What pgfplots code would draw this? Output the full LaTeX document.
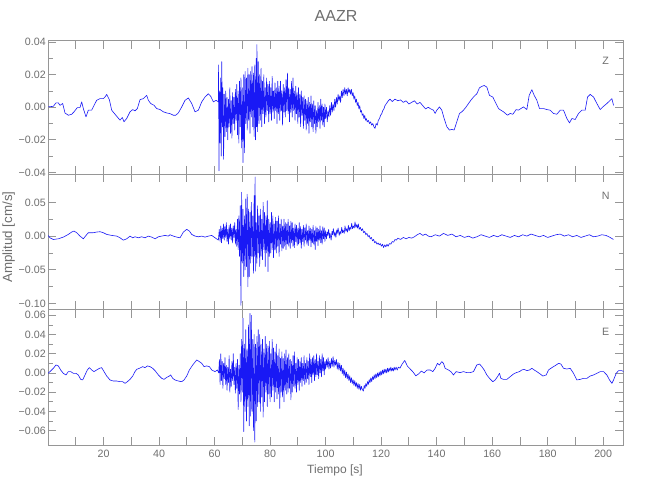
\documentclass[border=0pt]{standalone}
\usepackage{pgfplots}
\pgfplotsset{compat=1.18}
\usepackage{fontspec}
\setmainfont{Liberation Sans}
\definecolor{axc}{RGB}{150,150,150}
\definecolor{txc}{RGB}{110,110,110}
\definecolor{trc}{RGB}{25,25,245}
\pgfplotsset{
 panel/.style={
  scale only axis, width=431.6pt, xmin=0, xmax=207.3,
  axis line style={axc, line width=0.6pt},
  every tick/.style={axc, line width=0.6pt},
  major tick length=6pt, minor tick length=3.5pt,
  xtick={10,20,...,200},
  scaled y ticks=false, scaled x ticks=false,
  tick label style={font=\fontsize{8}{9}\selectfont, text=txc},
  yticklabel style={inner xsep=1.5pt},
  minor y tick num=1,
  anchor=south west,
 },
 trace/.style={trc, line width=0.45pt, line join=round},
}
\begin{document}
\begin{tikzpicture}
\useasboundingbox (0,0) rectangle (487.5pt,375pt);
% ---------- Z ----------
\begin{axis}[panel, at={(36pt,244.5pt)}, height=100.1pt,
  ymin=-0.041, ymax=0.041, ytick={-0.04,-0.02,0,0.02,0.04},
  yticklabels={−0.04,−0.02,0.00,0.02,0.04}, xticklabels={}]
\addplot[trace] coordinates {
(0.0,0.0002)(1.92,0.0006)(2.88,0.0027)(3.72,0.0027)(4.32,0.0012)(5.28,0.0023)(6.12,-0.0035)(7.32,-0.0049)(8.53,-0.0043)(9.37,-0.0028)(10.57,-0.0002)(11.53,-0.0002)(12.13,0.0033)(12.73,-0.0008)(13.69,-0.0059)(14.53,-0.0018)(15.73,-0.0018)(17.53,0.0043)(18.74,0.0053)(19.94,0.0053)(20.54,0.0063)(21.14,0.0079)(22.10,0.0047)(22.94,-0.0018)(24.74,-0.0055)(25.94,-0.0079)(26.78,-0.0063)(27.38,-0.0089)(28.35,-0.0069)(29.55,-0.0028)(30.51,-0.0014)(31.35,-0.0022)(32.19,-0.0008)(33.15,0.0047)(34.35,0.0053)(35.55,0.0073)(36.15,0.0043)(36.99,0.0023)(38.20,0.0012)(39.16,-0.0008)(40.36,-0.0014)(41.56,-0.0028)(42.76,-0.0035)(43.96,-0.0039)(45.16,-0.0049)(46.00,-0.0049)(46.96,-0.0035)(48.17,0.0002)(49.37,0.0043)(50.57,0.0057)(51.77,0.0023)(52.97,-0.0028)(54.17,-0.0018)(55.37,0.0033)(56.57,0.0063)(57.77,0.0083)(58.62,0.0067)(59.58,0.0033)(60.54,0.0043)(61.38,0.0033)
(61.45,0.026)(61.60,-0.039)(61.80,0.010)(62.00,-0.022)(62.20,0.018)(62.40,-0.030)(62.60,0.028)(62.80,-0.012)(63.00,0.012)(63.25,-0.032)(63.50,0.008)(63.75,-0.018)(64.00,0.010)(64.25,-0.015)(64.50,0.006)(64.75,-0.020)(65.00,0.005)(65.25,-0.012)(65.50,0.012)(65.75,-0.016)(66.00,0.004)(66.25,-0.019)(66.50,0.009)(66.75,-0.010)(67.00,0.006)(67.25,-0.014)(67.50,0.011)(67.75,-0.008)(68.00,0.014)(68.25,-0.017)(68.50,0.010)(68.75,-0.022)(69.00,0.016)(69.25,-0.012)(69.50,0.018)(69.75,-0.025)(70.00,0.012)(70.25,-0.034)(70.50,0.020)(70.75,-0.028)(71.00,0.022)(71.25,-0.010)(71.50,0.018)(71.75,-0.014)(72.00,0.024)(72.25,-0.008)(72.50,0.020)(72.75,-0.016)(73.00,0.022)(73.25,-0.006)(73.50,0.025)(73.75,-0.012)(74.00,0.021)(74.25,-0.018)(74.50,0.026)(74.75,-0.020)(75.00,0.030)(75.12,-0.012)(75.25,0.0385)(75.50,-0.015)(75.75,0.028)(76.00,-0.010)(76.25,0.020)(76.50,-0.008)(76.75,0.024)(77.00,-0.012)(77.25,0.016)(77.50,-0.004)(77.75,0.020)(78.00,-0.010)(78.25,0.012)(78.50,-0.006)(78.75,0.018)(79.00,-0.002)(79.25,0.014)(79.50,-0.009)(79.75,0.016)(80.00,-0.004)(80.25,0.012)(80.50,-0.008)(80.75,0.019)(81.00,-0.003)(81.25,0.010)(81.50,-0.007)(81.75,0.015)(82.00,-0.002)(82.25,0.012)(82.50,-0.010)(82.75,0.016)(83.00,-0.004)(83.25,0.013)(83.50,-0.008)(83.75,0.016)(84.00,-0.002)(84.25,0.010)(84.50,-0.011)(84.75,0.014)(85.00,-0.003)(85.25,0.012)(85.50,-0.006)(85.75,0.017)(86.00,-0.002)(86.25,0.021)(86.50,-0.004)(86.75,0.012)(87.00,-0.009)(87.25,0.011)(87.50,-0.003)(87.75,0.016)(88.00,-0.006)(88.25,0.018)(88.50,-0.002)(88.75,0.010)(89.00,-0.008)(89.25,0.013)(89.50,-0.004)(89.75,0.009)(90.00,-0.010)(90.25,0.012)(90.50,-0.006)(90.75,0.008)(91.00,-0.012)(91.25,0.010)(91.50,-0.005)(91.75,0.006)(92.00,-0.013)(92.25,0.007)(92.50,-0.008)(92.75,0.005)(93.00,-0.014)(93.25,0.004)(93.50,-0.010)(93.75,0.006)(94.00,-0.016)(94.25,0.003)(94.50,-0.009)(94.75,0.007)(95.00,-0.012)(95.25,0.002)(95.50,-0.015)(95.75,0.004)(96.00,-0.010)(96.25,0.001)(96.50,-0.016)(96.75,-0.002)(97.00,-0.012)(97.25,0.003)(97.50,-0.009)(97.75,0.001)(98.00,-0.013)(98.25,0.005)(98.50,-0.008)(98.75,0.002)(99.00,-0.011)(99.25,0.000)(99.50,-0.012)(99.75,0.002)
(100.0,-0.007)(100.3,0.000)(100.6,-0.009)(100.9,-0.002)(101.2,-0.006)(101.5,0.001)(101.8,-0.005)(102.1,0.003)(102.4,-0.003)(102.7,0.002)(103.0,-0.002)(103.3,0.005)(103.6,0.000)(103.9,0.006)(104.2,0.002)(104.5,0.008)(104.8,0.004)(105.1,0.007)(105.4,0.003)(105.7,0.010)(106.0,0.006)(106.3,0.011)(106.6,0.007)(106.9,0.012)(107.2,0.008)(107.5,0.011)(107.8,0.007)(108.1,0.012)(108.4,0.009)(108.7,0.011)(109.0,0.008)(109.3,0.011)(109.6,0.007)(109.9,0.009)(110.2,0.005)(110.5,0.007)(110.8,0.003)(111.1,0.005)(111.4,0.001)(111.7,0.003)(112.0,-0.001)(112.3,0.001)(112.6,-0.003)(112.9,-0.002)(113.2,-0.005)(113.5,-0.004)(113.8,-0.007)(114.1,-0.005)(114.4,-0.008)(114.7,-0.007)(115.0,-0.009)(115.4,-0.008)(115.8,-0.010)(116.2,-0.009)(116.6,-0.011)(117.0,-0.010)(117.4,-0.012)(117.8,-0.013)(118.2,-0.010)(118.6,-0.011)(119.0,-0.008)(119.4,-0.007)(119.8,-0.005)(120.2,-0.004)(120.6,-0.002)(121.0,-0.001)(121.4,0.001)(121.8,0.002)(122.2,0.003)(122.6,0.004)(123.2,0.005)(124.00,0.0035)(125.00,0.005)(126.00,0.004)(127.00,0.0045)(128.00,0.003)(129.00,0.004)(130.00,0.002)(131.00,0.003)(132.00,0.004)(133.00,0.002)(134.00,0.003)(135.00,0.001)(136.00,-0.001)(137.00,0.000)
(137.66,-0.0008)(138.86,-0.0018)(139.46,-0.0038)(140.06,-0.0018)(141.02,0.0002)(141.86,-0.0018)(142.70,-0.0069)(143.67,-0.0120)(144.63,-0.0140)(145.47,-0.0136)(146.31,-0.0140)(147.27,-0.0089)(148.23,-0.0038)(149.07,-0.0028)(149.67,-0.0018)(150.63,0.0002)(151.47,0.0023)(152.32,0.0043)(153.28,0.0063)(154.48,0.0083)(155.44,0.0120)(156.28,0.0128)(157.12,0.0134)(158.08,0.0124)(159.04,0.0073)(160.24,0.0063)(161.08,0.0033)(162.28,-0.0008)(163.13,-0.0018)(164.09,-0.0028)(165.53,-0.0049)(166.49,-0.0038)(167.45,-0.0043)(168.65,-0.0014)(169.49,-0.0018)(170.33,-0.0008)(171.29,0.0002)(172.49,-0.0014)(173.34,0.0073)(174.30,0.0108)(175.14,0.0073)(176.10,0.0043)(177.06,-0.0008)(178.50,-0.0008)(179.70,-0.0014)(180.90,-0.0018)(182.10,-0.0038)(183.30,-0.0043)(184.51,-0.0018)(185.71,-0.0018)(186.91,-0.0069)(187.87,-0.0096)(188.71,-0.0069)(189.91,-0.0075)(191.11,-0.0038)(192.31,-0.0018)(193.52,-0.0018)(194.36,0.0063)(195.32,0.0079)(196.52,0.0063)(197.72,0.0023)(198.92,-0.0014)(200.12,0.0006)(201.32,0.0023)(202.52,0.0043)(203.13,0.0053)(203.73,0.0012)
};
\node[txc, font=\fontsize{8}{9}\selectfont] at (rel axis cs:0.969,0.85) {Z};
\end{axis}
% ---------- N ----------
\begin{axis}[panel, at={(36pt,143.25pt)}, height=101.25pt,
  ymin=-0.108, ymax=0.092, ytick={-0.10,-0.05,0,0.05},
  yticklabels={−0.10,−0.05,0.00,0.05}, xticklabels={}]
\addplot[trace] coordinates {
(0.0,0.001)(0.72,-0.0025)(1.92,-0.005)(3.72,-0.004)(5.52,-0.0015)(7.32,0.0025)(8.53,0.006)(9.37,0.0075)(10.33,0.005)(11.53,0.0)(12.73,-0.004)(13.69,0.001)(14.53,0.005)(16.33,0.005)(17.53,0.006)(18.74,0.0065)(19.94,0.005)(21.14,0.0025)(22.94,0.001)(24.74,0.0)(25.94,-0.0025)(27.14,-0.006)(28.35,-0.004)(29.55,0.0)(30.51,-0.0025)(31.35,-0.001)(32.55,-0.0025)(33.75,-0.001)(34.95,-0.0025)(36.15,0.0)(37.35,-0.0015)(38.56,-0.004)(39.76,-0.001)(40.96,0.0)(42.16,0.001)(43.36,0.0)(43.96,0.002)(45.16,0.0)(46.36,-0.0015)(47.56,-0.0025)(48.77,0.006)(49.97,0.010)(50.93,0.0075)(51.77,0.0025)(52.97,0.0)(54.17,-0.001)(55.37,0.0)(56.57,-0.0015)(57.77,0.0)(58.98,0.001)(60.18,-0.0025)(61.38,-0.006)
(61.7,0.010)(62.0,-0.008)(62.25,0.015)(62.5,-0.010)(62.75,0.012)(63.0,-0.004)(63.25,0.018)(63.5,-0.006)(63.75,0.014)(64.0,-0.002)(64.25,0.020)(64.5,-0.008)(64.75,0.010)(65.0,-0.012)(65.25,0.016)(65.5,-0.004)(65.75,0.018)(66.0,-0.006)(66.25,0.012)(66.5,-0.010)(66.75,0.015)(67.0,-0.002)(67.25,0.020)(67.5,-0.012)(67.75,0.010)(68.0,-0.015)(68.25,0.025)(68.5,-0.020)(68.75,0.030)(69.0,-0.030)(69.25,0.045)(69.5,-0.1025)(69.75,0.065)(70.0,-0.040)(70.25,0.040)(70.5,-0.060)(70.75,0.030)(71.0,-0.050)(71.25,0.055)(71.5,-0.045)(71.75,0.062)(72.0,-0.075)(72.25,0.040)(72.5,-0.060)(72.75,0.035)(73.0,-0.040)(73.25,0.050)(73.5,-0.030)(73.75,0.030)(74.0,-0.055)(74.25,0.060)(74.42,-0.030)(74.6,0.0875)(74.8,-0.052)(75.0,0.020)(75.25,-0.040)(75.5,0.045)(75.75,-0.025)(76.0,0.030)(76.25,-0.045)(76.5,0.040)(76.75,-0.030)(77.0,0.025)(77.25,-0.035)(77.5,0.050)(77.75,-0.020)(78.0,0.035)(78.25,-0.045)(78.5,0.030)(78.75,-0.025)(79.0,0.0525)(79.25,-0.0525)(79.5,0.025)(79.75,-0.030)(80.0,0.020)(80.25,-0.025)(80.5,0.035)(80.75,-0.020)(81.0,0.030)(81.25,-0.032)(81.5,0.018)(81.75,-0.020)(82.0,0.028)(82.25,-0.025)(82.5,0.022)(82.75,-0.015)(83.0,0.030)(83.25,-0.030)(83.5,0.018)(83.75,-0.012)(84.0,0.025)(84.25,-0.022)(84.5,0.015)(84.75,-0.018)(85.0,0.025)(85.25,-0.015)(85.5,0.020)(85.75,-0.020)(86.0,0.018)(86.25,-0.012)(86.5,0.025)(86.75,-0.015)(87.0,0.015)(87.25,-0.018)(87.5,0.022)(87.75,-0.010)(88.0,0.020)(88.25,-0.015)(88.5,0.012)(88.75,-0.017)(89.0,0.018)(89.25,-0.008)(89.5,0.016)(89.75,-0.014)(90.0,0.012)(90.25,-0.012)(90.5,0.020)(90.75,-0.010)(91.0,0.014)(91.25,-0.018)(91.5,0.010)(91.75,-0.008)(92.0,0.016)(92.25,-0.015)(92.5,0.012)(92.75,-0.006)(93.0,0.018)(93.25,-0.012)(93.5,0.008)(93.75,-0.014)(94.0,0.015)(94.25,-0.006)(94.5,0.012)(94.75,-0.016)(95.0,0.010)(95.25,-0.010)(95.5,0.016)(95.75,-0.012)(96.0,0.008)(96.25,-0.020)(96.5,0.014)(96.75,-0.008)(97.0,0.012)(97.25,-0.014)(97.5,0.010)(97.75,-0.006)(98.0,0.015)(98.25,-0.010)(98.5,0.008)(98.75,-0.012)(99.0,0.014)(99.25,-0.004)(99.5,0.012)(99.75,-0.008)
(100.0,0.008)(100.3,-0.004)(100.6,0.006)(100.8,0.001)(101.1,0.010)(101.4,-0.003)(101.6,0.004)(102.0,-0.006)(102.3,0.007)(102.5,0.002)(102.8,0.011)(103.1,0.000)(103.4,0.006)(103.7,-0.002)(104.0,0.009)(104.2,0.004)(104.5,0.012)(104.9,0.001)(105.2,0.007)(105.5,0.003)(105.8,0.013)(106.1,0.005)(106.3,0.009)(106.7,0.004)(107.0,0.015)(107.3,0.007)(107.6,0.011)(107.9,0.006)(108.2,0.016)(108.5,0.008)(108.8,0.013)(109.1,0.010)(109.4,0.019)(109.7,0.011)(110.0,0.015)(110.3,0.012)(110.6,0.021)(110.9,0.013)(111.2,0.017)(111.5,0.012)(111.8,0.018)(112.1,0.010)(112.5,0.013)(112.9,0.008)(113.3,0.011)(113.7,0.005)(114.1,0.007)(114.5,0.002)(114.9,0.004)(115.3,-0.001)(115.7,0.001)(116.1,-0.004)(116.5,-0.002)(116.9,-0.007)(117.3,-0.005)(117.7,-0.010)(118.1,-0.008)(118.5,-0.012)(118.9,-0.010)(119.3,-0.013)(119.7,-0.011)(120.1,-0.015)(120.5,-0.012)(120.9,-0.017)(121.3,-0.013)(121.7,-0.016)(122.1,-0.012)(122.5,-0.015)(123.0,-0.011)(123.5,-0.012)(124.0,-0.008)(124.5,-0.009)(125.0,-0.005)(125.5,-0.006)(126.0,-0.003)(127.0,-0.005)(128.0,-0.002)(129.0,-0.004)(130.0,-0.002)(131.0,-0.003)(132.0,-0.001)(133.0,0.002)(134.0,0.004)(135.0,0.001)(136.0,0.003)(137.0,0.000)
(138,-0.001)(139.5,0.002)(141,0.000)(142.5,0.004)(144,0.001)(145.5,0.003)(147,-0.001)(148.5,0.001)(150,-0.002)(151.5,0.000)(153,-0.003)(154.5,-0.001)(156,0.002)(157.5,0.000)(159,-0.002)(160.5,0.001)(162,-0.001)(163.5,0.002)(165,0.000)(166.5,-0.002)(168,0.001)(169.5,-0.001)(171,0.002)(172.5,0.000)(174,0.003)(175.5,0.001)(177,-0.001)(178.5,0.001)(180,-0.002)(181.5,0.000)(183,0.002)(184.5,0.003)(186,0.000)(187.5,0.002)(189,-0.001)(190.5,0.001)(192,-0.002)(193.5,0.000)(195,0.002)(196.5,-0.001)(198,0.000)(199.5,0.002)(201,0.001)(202.5,-0.002)(203.7,-0.005)
};
\node[txc, font=\fontsize{8}{9}\selectfont] at (rel axis cs:0.969,0.84) {N};
\end{axis}
% ---------- E ----------
\begin{axis}[panel, at={(36pt,41.25pt)}, height=101.6pt,
  ymin=-0.075, ymax=0.066, ytick={-0.06,-0.04,-0.02,0,0.02,0.04,0.06},
  yticklabels={−0.06,−0.04,−0.02,0.00,0.02,0.04,0.06},
  xticklabels={,20,,40,,60,,80,,100,,120,,140,,160,,180,,200}]
\addplot[trace] coordinates {
(0.0,-0.0004)(0.72,0.0014)(1.92,0.0048)(2.88,0.0083)(3.72,0.0073)(4.56,0.0031)(5.52,-0.0004)(6.48,-0.0021)(7.32,0.0014)(8.17,0.0014)(9.13,-0.0004)(10.09,-0.0004)(10.93,-0.0021)(11.77,-0.0067)(12.49,-0.0073)(13.33,-0.0021)(14.17,0.0031)(14.89,0.0055)(15.73,0.0031)(16.57,0.0014)(17.53,0.0031)(18.50,0.0048)(19.34,0.0055)(20.18,0.0014)(21.14,-0.0032)(22.34,-0.0073)(23.54,-0.0084)(24.74,-0.0084)(25.94,-0.0091)(26.90,-0.0091)(27.75,-0.0108)(28.59,-0.0091)(29.55,-0.0067)(30.51,-0.0032)(31.35,0.0014)(31.95,0.0038)(32.91,0.0048)(34.11,0.0066)(34.95,0.0055)(35.79,0.0073)(36.75,0.0066)(37.72,0.0048)(38.56,0.0024)(39.76,-0.0021)(40.96,-0.0056)(41.80,-0.0067)(42.76,-0.0046)(43.72,-0.0032)(44.20,-0.0021)(44.92,-0.0056)(45.76,-0.0073)(46.96,-0.0084)(48.17,-0.0091)(49.01,-0.0073)(49.97,-0.0032)(50.93,0.0031)(52.13,0.0083)(53.57,0.0135)(54.53,0.0118)(55.37,0.0100)(56.21,0.0066)(57.17,0.0073)(58.14,0.0066)(58.98,0.0031)(60.18,0.0014)(61.02,0.0031)
(61.5,0.0)(61.75,0.014)(62.00,-0.012)(62.25,0.020)(62.50,-0.008)(62.75,0.012)(63.00,-0.016)(63.25,0.010)(63.50,-0.006)(63.75,0.016)(64.00,-0.012)(64.25,0.008)(64.50,-0.018)(64.75,0.006)(65.00,-0.010)(65.25,0.018)(65.50,-0.020)(65.75,0.004)(66.00,-0.014)(66.25,0.012)(66.50,-0.008)(66.75,0.020)(67.00,-0.012)(67.25,0.006)(67.50,-0.021)(67.75,0.010)(68.00,-0.016)(68.25,0.014)(68.50,-0.038)(68.75,0.008)(69.00,-0.022)(69.25,0.020)(69.50,-0.030)(69.75,0.035)(70.00,-0.020)(70.25,0.057)(70.50,-0.061)(70.75,0.030)(71.00,-0.040)(71.25,0.045)(71.50,-0.050)(71.75,0.025)(72.00,-0.035)(72.25,0.050)(72.50,-0.055)(72.75,0.062)(73.00,-0.045)(73.25,0.060)(73.50,-0.040)(73.75,0.035)(74.00,-0.060)(74.25,0.040)(74.50,-0.072)(74.75,0.030)(75.00,-0.050)(75.25,0.038)(75.50,-0.035)(75.75,0.045)(76.00,-0.030)(76.25,0.040)(76.50,-0.040)(76.75,0.030)(77.00,-0.025)(77.25,0.035)(77.50,-0.046)(77.75,0.025)(78.00,-0.030)(78.25,0.038)(78.50,-0.020)(78.75,0.030)(79.00,-0.035)(79.25,0.028)(79.50,-0.022)(79.75,0.033)(80.00,-0.030)(80.25,0.020)(80.50,-0.025)(80.75,0.035)(81.00,-0.018)(81.25,0.026)(81.50,-0.030)(81.75,0.022)(82.00,-0.020)(82.25,0.030)(82.50,-0.027)(82.75,0.018)(83.00,-0.022)(83.25,0.025)(83.50,-0.037)(83.75,0.015)(84.00,-0.020)(84.25,0.022)(84.50,-0.025)(84.75,0.015)(85.00,-0.030)(85.25,0.020)(85.50,-0.018)(85.75,0.024)(86.00,-0.022)(86.25,0.016)(86.50,-0.020)(86.75,0.020)(87.00,-0.016)(87.25,0.014)(87.50,-0.028)(87.75,0.012)(88.00,-0.020)(88.25,0.018)(88.50,-0.014)(88.75,0.022)(89.00,-0.016)(89.25,0.010)(89.50,-0.020)(89.75,0.016)(90.00,-0.012)(90.25,0.014)(90.50,-0.018)(90.75,0.012)(91.00,-0.010)(91.25,0.016)(91.50,-0.014)(91.75,0.010)(92.00,-0.008)(92.25,0.018)(92.50,-0.012)(92.75,0.010)(93.00,-0.010)(93.25,0.016)(93.50,-0.006)(93.75,0.012)(94.00,-0.012)(94.25,0.020)(94.50,-0.004)(94.75,0.014)(95.00,-0.010)(95.25,0.016)(95.50,-0.002)(95.75,0.018)(96.00,-0.008)(96.25,0.014)(96.50,-0.004)(96.75,0.020)(97.00,-0.002)(97.25,0.012)(97.50,-0.006)(97.75,0.018)(98.00,0.000)(98.25,0.014)(98.50,-0.004)(98.75,0.020)(99.00,0.002)(99.25,0.016)(99.50,-0.002)(99.75,0.012)
(100.0,0.004)(100.3,0.014)(100.6,0.006)(100.9,0.016)(101.2,0.004)(101.5,0.012)(101.8,0.005)(102.1,0.015)(102.4,0.007)(102.7,0.017)(103.0,0.006)(103.3,0.013)(103.6,0.008)(103.9,0.014)(104.2,0.004)(104.5,0.011)(104.8,0.003)(105.1,0.010)(105.4,0.002)(105.7,0.008)(106.0,-0.001)(106.3,0.005)(106.6,-0.003)(106.9,0.003)(107.2,-0.005)(107.5,0.001)(107.8,-0.006)(108.1,-0.001)(108.4,-0.008)(108.7,-0.003)(109.0,-0.010)(109.3,-0.005)(109.6,-0.011)(109.9,-0.007)(110.2,-0.013)(110.5,-0.008)(110.8,-0.014)(111.1,-0.010)(111.4,-0.016)(111.7,-0.011)(112.0,-0.017)(112.3,-0.012)(112.6,-0.018)(112.9,-0.014)(113.2,-0.017)(113.6,-0.019)(113.9,-0.013)(114.2,-0.016)(114.5,-0.011)(114.8,-0.014)(115.1,-0.009)(115.4,-0.012)(115.7,-0.007)(116.0,-0.010)(116.3,-0.005)(116.6,-0.009)(116.9,-0.004)(117.2,-0.007)(117.5,-0.002)(117.8,-0.006)(118.1,-0.001)(118.4,-0.005)(118.7,0.000)(119.0,-0.004)(119.3,0.001)(119.6,-0.003)(119.9,0.002)(120.2,-0.002)(120.5,0.003)(120.8,-0.001)(121.1,0.004)(121.4,0.000)(121.7,0.004)(122.0,0.000)(122.3,0.005)(122.6,0.001)(122.9,0.005)(123.2,0.002)(123.5,0.006)(123.8,0.002)(124.1,0.005)(124.4,0.002)(124.7,0.006)(125.0,0.003)(125.4,0.006)(125.8,0.003)(126.2,0.006)(126.80,0.005)(127.50,0.009)(128.50,0.013)(129.50,0.007)(130.50,0.004)(131.50,0.001)(132.50,-0.003)(133.50,-0.001)(134.50,0.002)(135.50,0.000)(136.50,0.003)
(137.66,0.0031)(138.62,0.0014)(139.46,0.0048)(140.30,0.0100)(141.02,0.0083)(141.86,0.0118)(142.46,0.0100)(143.07,0.0048)(144.27,0.0031)(145.11,0.0014)(146.07,-0.0021)(147.03,0.0014)(148.47,0.0003)(149.67,0.0014)(150.87,0.0003)(152.07,0.0003)(153.28,0.0014)(154.48,0.0083)(155.44,0.0093)(156.28,0.0066)(157.12,0.0031)(158.08,-0.0021)(159.04,-0.0056)(160.24,-0.0091)(161.08,-0.0073)(161.92,-0.0039)(162.64,-0.0004)(163.13,-0.0056)(164.09,-0.0067)(165.29,-0.0067)(166.49,-0.0039)(167.69,-0.0011)(168.65,0.0003)(169.85,0.0014)(170.69,0.0031)(171.53,0.0038)(172.49,0.0024)(173.46,0.0031)(174.30,0.0048)(175.14,0.0031)(176.10,0.0014)(177.30,-0.0011)(178.26,-0.0032)(179.46,-0.0021)(180.30,0.0031)(181.14,0.0048)(182.10,0.0066)(183.07,0.0083)(183.91,0.0100)(184.75,0.0093)(185.71,0.0048)(186.91,0.0041)(188.11,0.0048)(189.31,-0.0004)(190.51,-0.0073)(191.71,-0.0067)(192.92,-0.0056)(194.12,-0.0056)(195.32,-0.0032)(196.52,-0.0021)(197.72,-0.0004)(198.92,0.0014)(200.12,0.0014)(201.32,-0.0021)(202.28,-0.0073)(203.13,-0.0108)(203.73,-0.0073)(204.68,-0.0004)(205.53,0.0024)(206.73,0.0024)(207.33,0.0014)
};
\node[txc, font=\fontsize{8}{9}\selectfont] at (rel axis cs:0.969,0.834) {E};
\end{axis}
\node[txc, font=\fontsize{12}{14}\selectfont] at (252pt,363pt) {AAZR};
\node[txc, font=\fontsize{9}{11}\selectfont] at (251.25pt,22.5pt) {Tiempo [s]};
\node[txc, font=\fontsize{10}{12}\selectfont, rotate=90] at (6.5pt,197.25pt) {Amplitud [cm/s]};
\end{tikzpicture}
\end{document}
